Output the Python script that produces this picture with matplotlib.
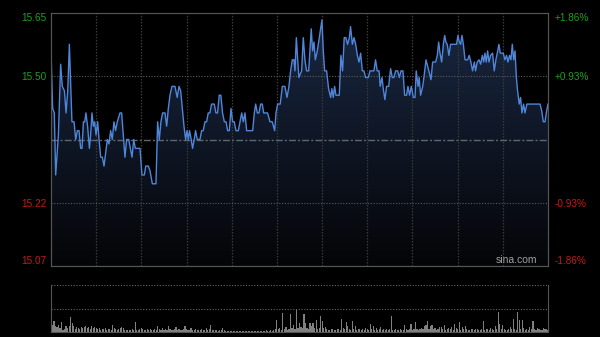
import numpy as np
import matplotlib.pyplot as plt
from matplotlib.colors import LinearSegmentedColormap

plt.rcParams['font.family'] = ['Liberation Sans', 'DejaVu Sans']

prev_close = 15.36
pct_lim = 0.0186
pct_mid = 0.0093

# minute of session (0..330) and price
t_min = [0, 1.1, 2.2, 3.1, 4.9, 6.4, 7.5, 8.9, 10.0, 11.1, 12.2, 13.9, 15.3, 16.4, 17.5, 18.6,
         19.7, 20.6, 21.5, 22.4, 23.2, 24.3, 25.5, 26.3, 27.2, 28.1, 29.0, 29.9, 31.0, 31.9,
         33.0, 34.1, 35.2, 36.3, 37.4, 38.5, 39.6, 40.7, 41.8, 42.9, 44.0, 45.8, 46.9, 48.0,
         49.1, 50.2, 51.6, 52.7, 53.8, 54.9, 56.0, 58.2, 59.1, 60.4, 62.0, 62.9, 64.6, 65.7,
         67.3, 69.7, 70.8, 71.9, 73.0, 74.1, 75.7, 76.8, 77.9, 79.0, 80.3, 82.3,
         83.8, 85.0, 86.1, 87.2, 88.3, 89.4, 90.3, 91.2, 92.0, 93.1, 94.0, 95.1, 96.0, 97.1,
         98.9, 100.0, 101.1, 102.2, 103.3, 104.4, 105.5, 106.6, 108.4, 109.5, 110.6, 111.7,
         112.8, 113.9, 115.1, 116.2, 117.3, 118.4, 119.5, 120.6, 121.7, 122.8, 124.4, 125.5,
         126.6, 127.7, 128.8, 129.9, 131.4, 133.9, 135.0, 135.9, 137.0, 138.1, 139.2, 140.3,
         141.2, 143.8, 145.4, 146.9, 148.5, 149.4, 150.5, 152.2, 153.6, 155.3, 156.7, 158.0,
         159.1, 160.2, 161.3, 162.0, 162.9, 163.8, 164.6,
         166.4, 167.5, 168.6, 169.7, 171.1, 171.9, 172.8, 173.7, 174.6, 175.5, 176.8, 178.1,
         179.2, 179.9, 180.8, 181.7, 183.0, 184.3, 185.7, 186.5, 187.4, 188.3, 189.2, 190.3,
         191.4, 192.5, 193.6, 194.7, 195.8, 196.9, 198.1, 198.9, 200.1, 201.2, 202.3, 203.4,
         204.5, 205.6, 206.7, 207.8, 208.9, 210.7, 211.8, 214.4, 215.5, 216.6, 217.8, 218.6,
         219.8, 220.6, 221.7, 222.8, 224.2, 225.5, 226.6, 227.7, 228.8, 230.2, 231.3, 232.4,
         233.7, 234.8, 236.1, 237.0, 238.1, 239.2, 240.6, 241.7, 242.5, 243.7, 244.5, 245.4,
         246.8, 247.6, 249.0,
         250.9, 252.3, 253.4, 255.4, 256.5, 257.4, 258.3, 259.4, 260.5, 261.4, 262.2, 263.1,
         264.2, 265.3, 269.3, 270.2, 271.1, 272.0, 272.9, 273.8, 274.9, 276.6, 277.7, 278.8,
         279.9, 281.1, 281.9, 283.0, 284.2, 285.3, 286.4, 287.3, 288.1, 289.0, 289.9, 290.8,
         291.9, 293.2, 294.3, 295.4, 296.6, 297.4, 298.3, 300.3, 301.4, 302.5, 303.4, 304.5,
         305.4, 306.3, 307.2, 308.1, 309.0, 309.8, 310.9, 311.8, 312.7, 313.8, 314.7, 316.0,
         324.7, 325.8, 326.9, 328.0, 329.1, 330.0]
price = [15.56, 15.43, 15.42, 15.28, 15.37, 15.53, 15.48, 15.47, 15.42, 15.47, 15.575, 15.40,
         15.40, 15.36, 15.38, 15.38, 15.34, 15.34, 15.40, 15.40, 15.42, 15.39, 15.34, 15.37,
         15.42, 15.39, 15.40, 15.37, 15.40, 15.36, 15.32, 15.32, 15.30, 15.33, 15.36, 15.35,
         15.38, 15.36, 15.40, 15.38, 15.40, 15.42, 15.42, 15.37, 15.32, 15.36, 15.36, 15.34,
         15.32, 15.36, 15.34, 15.34, 15.34, 15.28, 15.28, 15.30, 15.30, 15.29, 15.26, 15.26,
         15.40, 15.36, 15.40, 15.42, 15.42, 15.39, 15.43, 15.46, 15.48, 15.48,
         15.455, 15.48, 15.47, 15.43, 15.39, 15.36, 15.38, 15.36, 15.38, 15.36, 15.34, 15.36,
         15.38, 15.36, 15.36, 15.38, 15.38, 15.40, 15.40, 15.42, 15.42, 15.44, 15.44, 15.42,
         15.42, 15.46, 15.46, 15.42, 15.40, 15.40, 15.38, 15.38, 15.43, 15.40, 15.40, 15.38,
         15.38, 15.40, 15.42, 15.40, 15.42, 15.38, 15.38, 15.38, 15.42, 15.44, 15.42, 15.42,
         15.44, 15.44, 15.42, 15.42, 15.40, 15.40, 15.38, 15.42, 15.44, 15.44, 15.48, 15.48,
         15.455, 15.48, 15.515, 15.54, 15.54, 15.515, 15.59, 15.54, 15.50,
         15.515, 15.59, 15.54, 15.515, 15.515, 15.56, 15.61, 15.56, 15.58, 15.54, 15.56, 15.59,
         15.615, 15.63, 15.56, 15.515, 15.515, 15.475, 15.455, 15.475, 15.455, 15.48, 15.46,
         15.46, 15.46, 15.55, 15.515, 15.59, 15.59, 15.575, 15.59, 15.615, 15.575, 15.59,
         15.575, 15.55, 15.535, 15.555, 15.515, 15.515, 15.50, 15.50, 15.515, 15.515, 15.54,
         15.515, 15.515, 15.48, 15.50, 15.475, 15.45, 15.48, 15.48, 15.52, 15.50, 15.50,
         15.515, 15.515, 15.50, 15.515, 15.515, 15.46, 15.46, 15.48, 15.46, 15.48, 15.455,
         15.455, 15.515, 15.48, 15.50, 15.46, 15.48, 15.50, 15.54,
         15.515, 15.495, 15.535, 15.535, 15.55, 15.58, 15.555, 15.535, 15.575, 15.595, 15.58,
         15.575, 15.55, 15.575, 15.575, 15.595, 15.58, 15.575, 15.595, 15.575, 15.54, 15.54,
         15.55, 15.535, 15.515, 15.535, 15.515, 15.535, 15.54, 15.53, 15.55, 15.535, 15.555,
         15.535, 15.56, 15.535, 15.55, 15.555, 15.515, 15.54, 15.56, 15.575, 15.555, 15.555,
         15.54, 15.55, 15.535, 15.55, 15.54, 15.575, 15.54, 15.56, 15.50, 15.47, 15.44, 15.455,
         15.42, 15.44, 15.42, 15.44, 15.44, 15.425, 15.40, 15.40, 15.425, 15.44]

# per-minute volume (relative units)
volume = [10, 7, 11, 6, 5, 7, 4, 10, 2, 3, 6, 4, 6, 15, 9, 6, 3, 5, 4, 3,
          5, 4, 5, 6, 4, 5, 3, 6, 4, 5, 4, 3, 4, 2, 3, 3, 4, 2, 3, 3,
          2, 7, 4, 3, 2, 3, 4, 5, 4, 2, 2, 2, 2, 2, 3, 2, 10, 2, 2, 3,
          4, 3, 2, 2, 3,
          2, 3, 2, 2, 3, 2, 6, 3, 2, 4, 2, 3, 2, 6, 3, 2, 2, 3, 5, 2,
          3, 2, 2, 3, 6, 3, 2, 2, 4, 2, 2, 3, 2, 2, 2, 3, 2, 2, 4, 2,
          3, 7, 2, 2, 2, 2, 1, 2, 2, 4, 2, 1,
          1, 1, 1, 1, 1, 1, 1, 1, 1, 1, 1, 1, 1, 1, 1, 1, 1, 1, 1, 1,
          1, 1, 1, 1, 1, 1, 2, 1, 1,
          2, 1, 2, 3, 12, 3, 4, 2, 19, 3, 5, 2, 3, 18, 4, 7, 3, 23, 4,
          9, 5, 4, 18, 9, 4, 3, 9, 6, 9, 4, 12, 3, 4, 16, 11, 4, 5, 3, 2,
          2, 3, 3, 2, 2, 3, 3, 2, 13, 4, 3, 10, 6, 3, 2, 11, 3, 6, 2, 3,
          3, 2, 3, 2, 4, 3, 2, 8, 3, 6, 2, 4, 2, 3, 5, 2, 3, 2, 3, 2,
          3, 16, 2, 2, 3, 2, 2, 3, 2, 2, 7, 3, 2, 3, 8, 2, 3, 10, 3, 2,
          3, 4, 3, 6, 7, 11, 3, 6, 7, 3, 4, 2, 3, 5, 5, 3, 7, 2, 3, 4,
          3, 5, 2, 8, 4, 3, 10, 2, 5, 3, 6, 3, 2, 2, 3, 3, 2, 3, 3, 2,
          2, 3, 11, 2, 3, 3, 2, 4, 3, 2, 6, 3, 20, 8, 3, 7, 3, 2, 2, 3,
          5, 3, 13, 3, 2, 20, 12, 3, 12, 4, 2, 3, 2, 5, 3, 11, 3, 2, 4, 3,
          2, 2, 4, 3, 3, 2]

left_labels = ['15.65', '15.50', '15.22', '15.07']
right_labels = ['+1.86%', '+0.93%', '-0.93%', '-1.86%']
label_colors = ['#1fa01f', '#1fa01f', '#c81818', '#c81818']

lo = prev_close * (1 - pct_lim)
hi = prev_close * (1 + pct_lim)
levels = [hi, prev_close * (1 + pct_mid), prev_close * (1 - pct_mid), lo]
edge = '#555555'

fig = plt.figure(figsize=(6, 3.37), dpi=100, facecolor='black')
ax = fig.add_axes([51 / 600, 1 - 266 / 337, 497 / 600, 253 / 337])
ax.set_facecolor('black')
ax.set_xlim(0, 330)
ax.set_ylim(lo, hi)

# gradient under the price line
grad = np.linspace(0, 1, 256).reshape(-1, 1)
cmap = LinearSegmentedColormap.from_list('fill', ['#040507', '#1a2843'])
im = ax.imshow(grad, extent=[0, 330, lo, hi], origin='lower', aspect='auto',
               cmap=cmap, zorder=1, interpolation='bilinear')
poly = ax.fill_between(t_min, price, lo, color='none', lw=0)
im.set_clip_path(poly.get_paths()[0], transform=ax.transData)

for m in range(30, 330, 30):
    ax.axvline(m, color='#3a3a3a', lw=0.9, ls=(0, (1.2, 1.2)), zorder=2)
for lv in levels[1:3]:
    ax.axhline(lv, color='#5c5c5c', lw=0.8, ls=(0, (1, 1.5)), zorder=2)
ax.axhline(prev_close, color='#5e6670', lw=1.0, ls=(0, (5, 1.5, 1.5, 1.5)), zorder=2)

ax.plot(t_min, price, color='#4f86da', lw=1.0, zorder=3)

ax.text(0.978, 0.004, 'sina.com', transform=ax.transAxes, ha='right', va='bottom',
        color='#a0a0a0', fontsize=7.5, zorder=4)

for s in ax.spines.values():
    s.set_color(edge)
ax.set_xticks([])
ax.set_yticks(levels)
ax.set_yticklabels(left_labels)
ax.tick_params(axis='y', length=0, pad=3, labelsize=7.2)

ax2 = ax.twinx()
ax2.set_ylim(lo, hi)
ax2.set_yticks(levels)
ax2.set_yticklabels(right_labels)
ax2.tick_params(axis='y', length=0, pad=5, labelsize=7.2)
for s in ax2.spines.values():
    s.set_color(edge)

for axis in (ax, ax2):
    lbls = axis.get_yticklabels()
    for lb, c in zip(lbls, label_colors):
        lb.set_color(c)
    lbls[0].set_va('top')
    lbls[-1].set_va('bottom')

# volume panel
axv = fig.add_axes([51 / 600, 1 - 332 / 337, 497 / 600, 47 / 337])
axv.set_facecolor('black')
axv.bar(np.arange(len(volume)), volume, width=0.75, color='#808080', lw=0)
axv.set_xlim(0, 330)
axv.set_ylim(0, 46)
axv.axhline(23, color='#666666', lw=0.8, ls=(0, (1, 1.5)))
axv.axhline(46, color='#666666', lw=0.8, ls=(0, (1, 1.5)))
axv.spines['top'].set_visible(False)
for k in ('left', 'right', 'bottom'):
    axv.spines[k].set_color(edge)
axv.set_xticks([])
axv.set_yticks([])

fig.savefig('out.png', dpi=100, facecolor='black')
